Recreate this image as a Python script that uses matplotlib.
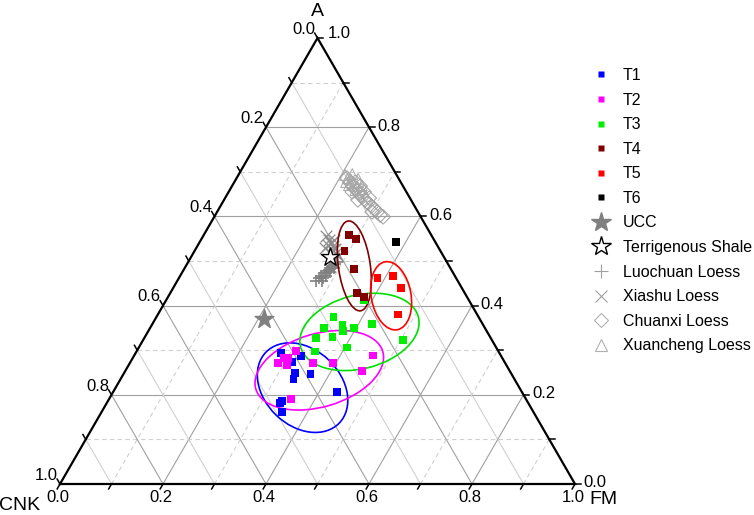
import numpy as np
import matplotlib.pyplot as plt
from matplotlib.patches import Ellipse
from matplotlib.lines import Line2D

plt.rcParams['font.family'] = ['Liberation Sans', 'DejaVu Sans']

# ternary values (A, FM; CNK = 1 - A - FM)
t1_a = [0.293, 0.274, 0.287, 0.248, 0.235, 0.247, 0.207, 0.187, 0.181, 0.162]
t1_fm = [0.282, 0.313, 0.325, 0.333, 0.336, 0.363, 0.435, 0.338, 0.337, 0.350]
t2_a = [0.299, 0.271, 0.282, 0.283, 0.267, 0.271, 0.271, 0.288, 0.254, 0.190]
t2_fm = [0.309, 0.288, 0.293, 0.302, 0.307, 0.355, 0.395, 0.463, 0.459, 0.353]
t3_a = [0.413, 0.374, 0.357, 0.344, 0.350, 0.358, 0.349, 0.327, 0.330, 0.306, 0.323, 0.297]
t3_fm = [0.384, 0.344, 0.370, 0.378, 0.396, 0.426, 0.338, 0.334, 0.364, 0.404, 0.505, 0.347]
t4_a = [0.558, 0.550, 0.523, 0.482, 0.429, 0.420]
t4_fm = [0.282, 0.299, 0.291, 0.330, 0.363, 0.380]
t5_a = [0.461, 0.466, 0.439, 0.380]
t5_fm = [0.386, 0.414, 0.443, 0.466]
t6_a = [0.543]
t6_fm = [0.381]
ucc_a = [0.369]
ucc_fm = [0.211]
shale_a = [0.510]
shale_fm = [0.270]

luochuan_a = [0.455, 0.462, 0.466, 0.462, 0.473, 0.478, 0.480, 0.484, 0.489, 0.493,
              0.498, 0.455, 0.466, 0.475, 0.484]
luochuan_fm = [0.270, 0.272, 0.274, 0.280, 0.278, 0.279, 0.282, 0.284, 0.286, 0.288,
               0.289, 0.281, 0.284, 0.287, 0.290]
xiashu_a = [0.556, 0.547, 0.540, 0.534, 0.527, 0.536, 0.525, 0.518, 0.511, 0.529, 0.520, 0.547]
xiashu_fm = [0.239, 0.249, 0.256, 0.263, 0.271, 0.252, 0.266, 0.277, 0.285, 0.250, 0.264, 0.259]
chuanxi_a = [0.686, 0.675, 0.666, 0.659, 0.652, 0.643, 0.637, 0.630, 0.623, 0.617,
             0.610, 0.603, 0.599, 0.677, 0.668, 0.655, 0.641, 0.655, 0.637, 0.610]
chuanxi_fm = [0.214, 0.226, 0.236, 0.246, 0.255, 0.265, 0.274, 0.283, 0.293, 0.302,
              0.311, 0.320, 0.328, 0.235, 0.249, 0.263, 0.280, 0.240, 0.260, 0.301]
xuancheng_a = [0.693, 0.686, 0.682, 0.675, 0.668, 0.661, 0.655, 0.670, 0.659, 0.677,
               0.684, 0.695, 0.670, 0.646]
xuancheng_fm = [0.207, 0.216, 0.224, 0.234, 0.243, 0.252, 0.261, 0.226, 0.244, 0.217,
                0.237, 0.220, 0.251, 0.271]

# confidence ellipses for T1..T5 (centre A, FM; semi axes; angle in degrees)
ell_a = [0.216, 0.255, 0.341, 0.489, 0.422]
ell_fm = [0.363, 0.376, 0.411, 0.327, 0.432]
ell_major = [0.099, 0.1285, 0.118, 0.088, 0.067]
ell_minor = [0.074, 0.071, 0.0715, 0.031, 0.0386]
ell_angle = [-44, 16.5, 14.2, 97.9, 100.2]
ell_colors = ['#0000FF', '#FF00FF', '#00E000', '#800000', '#FF0000']

tick_vals = np.round(np.arange(0, 1.01, 0.1), 1)
label_vals = [0.0, 0.2, 0.4, 0.6, 0.8, 1.0]

H = np.sqrt(3) / 2


def tern(a, fm):
    a = np.asarray(a, float)
    fm = np.asarray(fm, float)
    return fm + a / 2, a * H


fig = plt.figure(figsize=(7.54, 5.15), dpi=100)
ax = fig.add_axes([0, 0, 1, 1])
ax.set_xlim(-60 / 515, 694 / 515)
ax.set_ylim(-31 / 515, 484 / 515)
ax.axis('off')

# grid
for v in tick_vals[1:-1]:
    is_major = abs(v * 10 % 2) < 1e-6
    col = '#a0a0a0' if is_major else '#d0d0d0'
    # A constant (horizontal)
    ax.plot(*tern([v, v], [0, 1 - v]), color=col, lw=0.8,
            ls='-' if is_major else (0, (4, 3)), zorder=1)
    # FM constant
    ax.plot(*tern([0, 1 - v], [v, v]), color=col, lw=0.8,
            ls='-' if is_major else (0, (4, 3)), zorder=1)
    # CNK constant
    ax.plot(*tern([0, 1 - v], [1 - v, 0]), color=col, lw=0.8, ls='-', zorder=1)

# frame
ax.plot(*tern([0, 0, 1, 0], [0, 1, 0, 0]), color='k', lw=1.6, zorder=5,
        solid_joinstyle='miter')

# ticks and labels
L = 0.011
for v in tick_vals:
    x, y = tern(0, v)
    ax.plot([x, x - 0.5 * L], [y, y - H * L], color='k', lw=1.1, zorder=5)
    x, y = tern(1 - v, 0)
    ax.plot([x, x - 0.5 * L], [y, y + H * L], color='k', lw=1.1, zorder=5)
    x, y = tern(v, 1 - v)
    ax.plot([x, x + L], [y, y], color='k', lw=1.1, zorder=5)

for v in label_vals:
    x, y = tern(0, v)
    ax.text(x - 0.004, y - 0.026, f'{v:.1f}', ha='center', va='center', fontsize=12)
    x, y = tern(1 - v, 0)
    ax.text(x - 0.005, y + 0.017, f'{v:.1f}', ha='right', va='center', fontsize=12)
    x, y = tern(v, 1 - v)
    if v == 1.0:
        ax.text(x + 0.019, y + 0.009, f'{v:.1f}', ha='left', va='center', fontsize=12)
    else:
        ax.text(x + 0.017, y + 0.002, f'{v:.1f}', ha='left', va='center', fontsize=12)

ax.text(0.5, H + 0.052, 'A', ha='center', va='center', fontsize=14)
ax.text(-0.078, -0.041, 'CNK', ha='center', va='center', fontsize=14)
ax.text(1.056, -0.030, 'FM', ha='center', va='center', fontsize=14)

# reference loess data
ax.scatter(*tern(chuanxi_a, chuanxi_fm), marker='D', s=55, facecolors='none',
           edgecolors='#a0a0a0', linewidths=0.7, zorder=2)
ax.scatter(*tern(xuancheng_a, xuancheng_fm), marker='^', s=60, facecolors='none',
           edgecolors='#a8a8a8', linewidths=0.7, zorder=2)
ax.scatter(*tern(xiashu_a, xiashu_fm), marker='x', s=70, color='#8c8c8c',
           linewidths=0.9, zorder=2)
ax.scatter(*tern(luochuan_a, luochuan_fm), marker='+', s=80, color='#808080',
           linewidths=1.2, zorder=2)
ax.scatter(*tern(ucc_a, ucc_fm), marker='*', s=200, color='#808080', zorder=3)
ax.scatter(*tern(shale_a, shale_fm), marker='*', s=190, facecolors='white',
           edgecolors='k', linewidths=1.0, zorder=6)

# ellipses
for a, fm, w, h, ang, c in zip(ell_a, ell_fm, ell_major, ell_minor, ell_angle, ell_colors):
    ax.add_patch(Ellipse(tern(a, fm), 2 * w, 2 * h, angle=ang, fill=False,
                         edgecolor=c, lw=1.2, zorder=3))

# samples
groups = [(t1_a, t1_fm, '#0000FF'), (t2_a, t2_fm, '#FF00FF'), (t3_a, t3_fm, '#00EE00'),
          (t4_a, t4_fm, '#800000'), (t5_a, t5_fm, '#FF0000'), (t6_a, t6_fm, '#000000')]
for a, fm, c in groups:
    ax.scatter(*tern(a, fm), marker='s', s=32, color=c, edgecolors='none', zorder=4)

# legend
names = ['T1', 'T2', 'T3', 'T4', 'T5', 'T6']
handles = [Line2D([], [], ls='none', marker='s', ms=4.5, color=c, mec='none')
           for _, _, c in groups]
handles += [
    Line2D([], [], ls='none', marker='*', ms=15, color='#808080'),
    Line2D([], [], ls='none', marker='*', ms=15, mfc='white', mec='k', mew=1.0),
    Line2D([], [], ls='none', marker='+', ms=10, color='#a0a0a0', mew=0.8),
    Line2D([], [], ls='none', marker='x', ms=9, color='#a0a0a0', mew=0.8),
    Line2D([], [], ls='none', marker='D', ms=7, mfc='none', mec='#b0b0b0', mew=0.8),
    Line2D([], [], ls='none', marker='^', ms=8, mfc='none', mec='#b0b0b0', mew=0.8),
]
names += ['UCC', 'Terrigenous Shale', 'Luochuan Loess', 'Xiashu Loess',
          'Chuanxi Loess', 'Xuancheng Loess']
fig.legend(handles, names, loc='upper left', bbox_to_anchor=(0.786, 0.868),
           frameon=False, fontsize=11.5, handlelength=1.0, handletextpad=0.9,
           labelspacing=0.60, borderpad=0, borderaxespad=0)

fig.savefig('out.png', dpi=100)
